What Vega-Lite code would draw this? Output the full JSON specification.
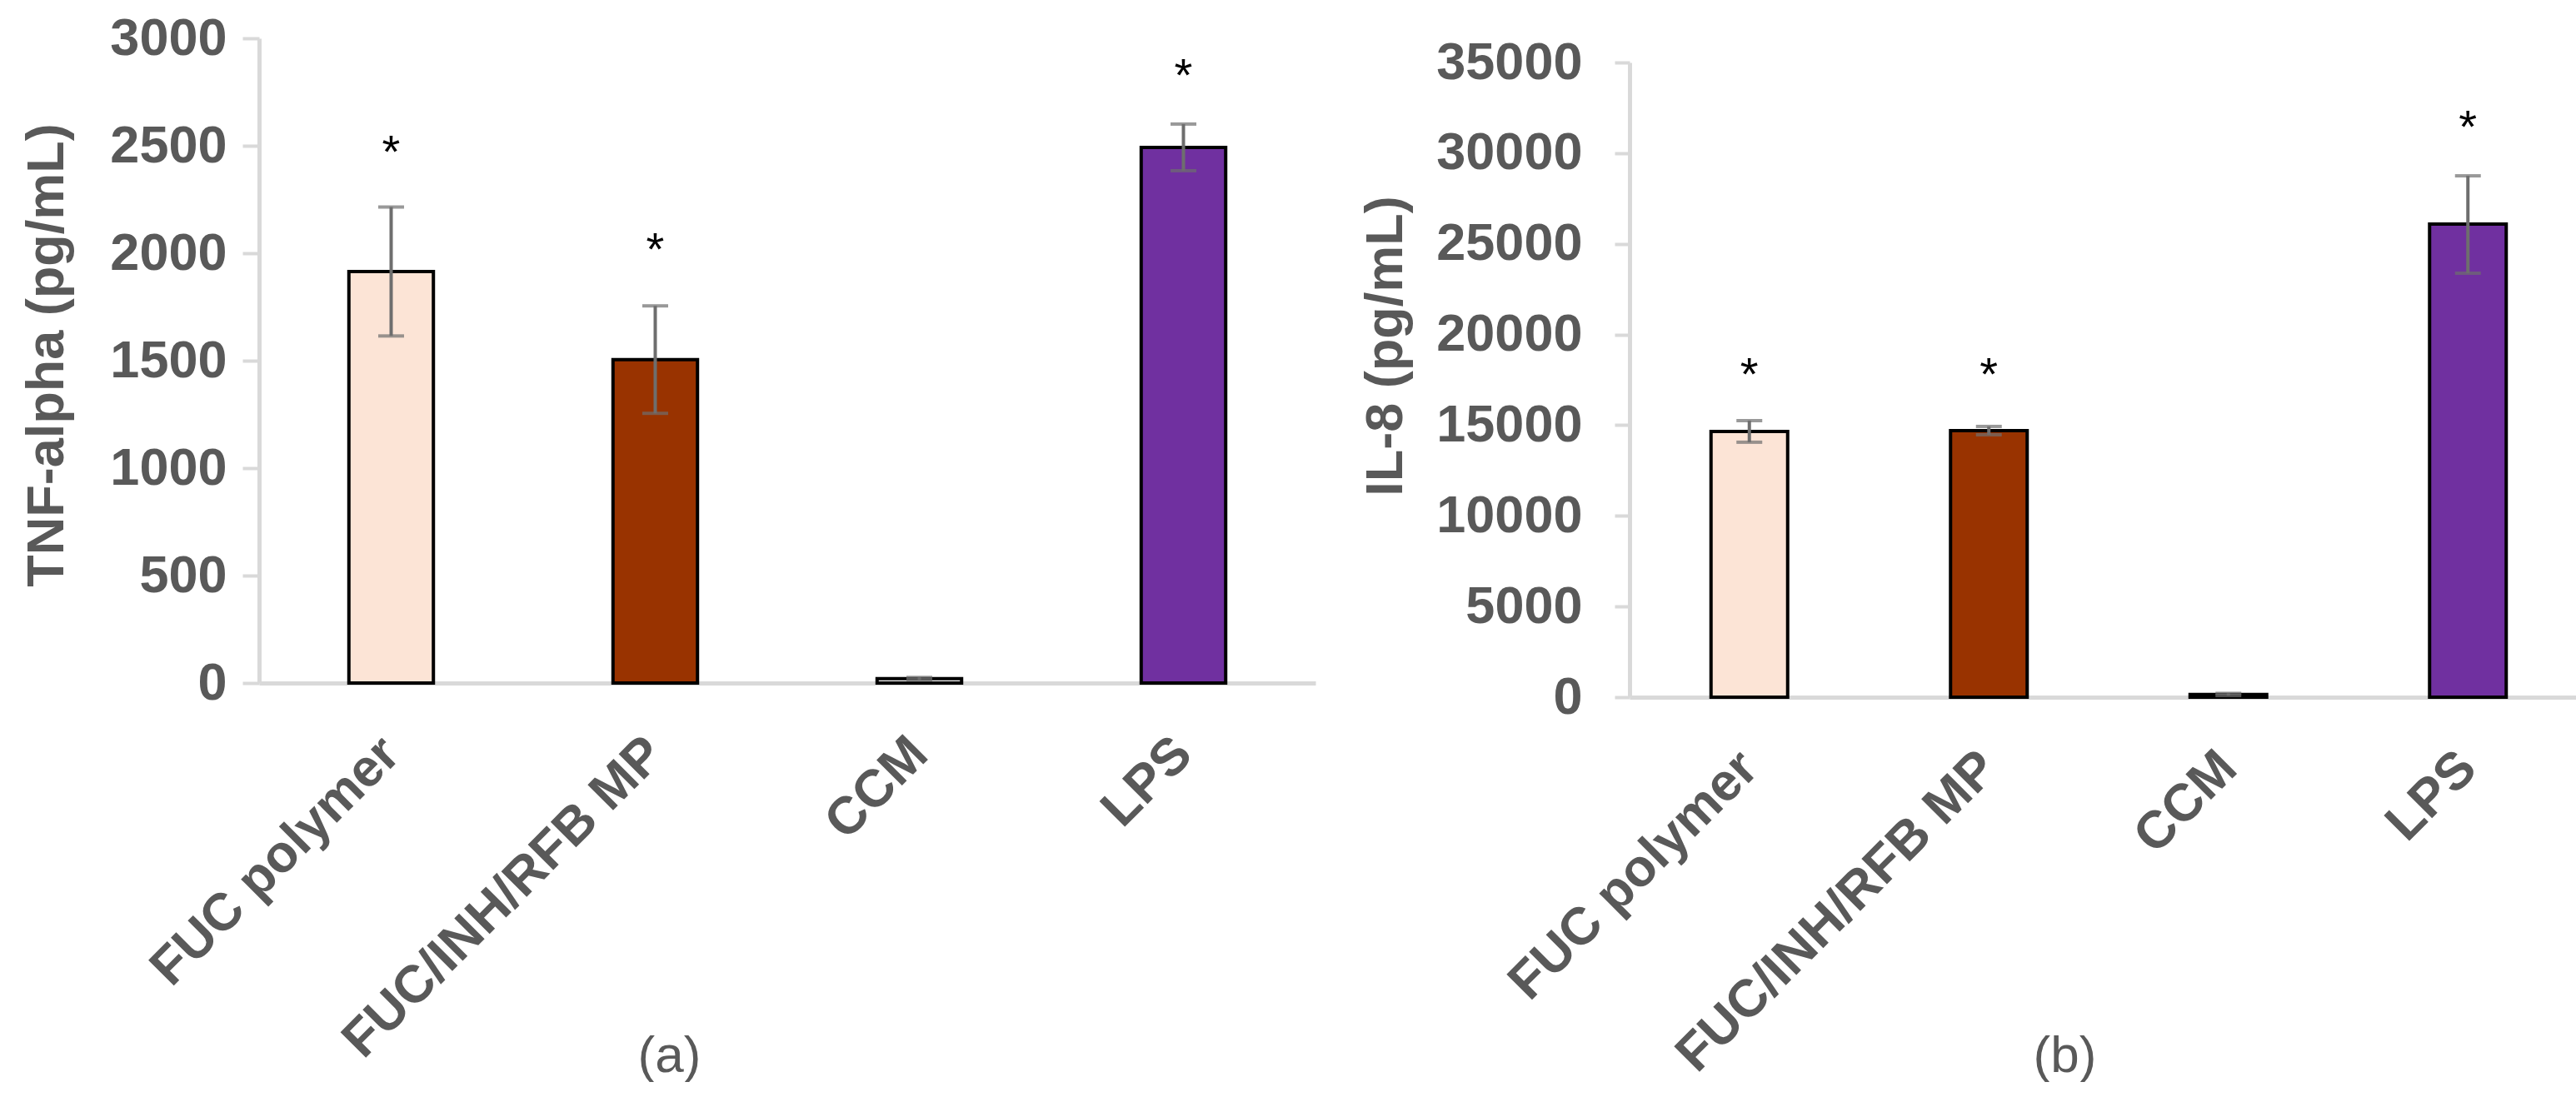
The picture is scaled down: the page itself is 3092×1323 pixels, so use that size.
{
  "$schema": "https://vega.github.io/schema/vega-lite/v6.json",
  "background": "white",
  "padding": {"left": 25, "top": 15, "right": 0, "bottom": 0},
  "spacing": 53,
  "config": {
    "view": {"stroke": null},
    "font": "Liberation Sans",
    "axis": {
      "labelFont": "Liberation Sans",
      "labelFontSize": 63,
      "labelFontWeight": "bold",
      "labelColor": "#595959",
      "labelLimit": 0,
      "titleFont": "Liberation Sans",
      "titleFontSize": 63,
      "titleFontWeight": "bold",
      "titleColor": "#595959",
      "domainColor": "#D9D9D9",
      "domainWidth": 5,
      "tickColor": "#D9D9D9",
      "tickWidth": 4,
      "grid": false,
      "zindex": 1
    }
  },
  "datasets": {
    "tnf": [
      {"group": "FUC polymer", "value": 1915, "low": 1615, "high": 2215, "star": 2523},
      {"group": "FUC/INH/RFB MP", "value": 1505, "low": 1255, "high": 1755, "star": 2070},
      {"group": "CCM", "value": 20, "low": 14, "high": 26, "star": null},
      {"group": "LPS", "value": 2492, "low": 2384, "high": 2601, "star": 2880}
    ],
    "il8": [
      {"group": "FUC polymer", "value": 14650, "low": 14060, "high": 15250, "star": 18420},
      {"group": "FUC/INH/RFB MP", "value": 14700, "low": 14470, "high": 14930, "star": 18420},
      {"group": "CCM", "value": 150, "low": 90, "high": 210, "star": null},
      {"group": "LPS", "value": 26090, "low": 23380, "high": 28750, "star": 32060}
    ]
  },
  "hconcat": [
    {
      "width": 1268,
      "height": 774,
      "data": {"name": "tnf"},
      "encoding": {
        "x": {
          "field": "group", "type": "nominal", "sort": null,
          "scale": {"paddingInner": 0.68, "paddingOuter": 0.34},
          "axis": {
            "labelAngle": -45, "labelBaseline": "middle", "labelAlign": "right", "ticks": false, "labelPadding": 75,
            "title": "(a)", "titleFontWeight": "normal", "titleFontSize": 62,
            "titleX": 492, "titleY": 447, "titleAlign": "center", "titleBaseline": "middle", "titleAnchor": null
          }
        }
      },
      "layer": [
        {
          "mark": {"type": "bar", "stroke": "black", "strokeWidth": 4},
          "encoding": {
            "y": {
              "field": "value", "type": "quantitative",
              "scale": {"domain": [0, 3000], "nice": false},
              "axis": {
                "values": [0, 500, 1000, 1500, 2000, 2500, 3000], "format": "d",
                "tickSize": 20, "labelPadding": 19,
                "title": "TNF-alpha (pg/mL)", "titleX": -255, "titleY": 380,
                "titleBaseline": "middle", "titleAlign": "center", "titleAngle": 270
              }
            },
            "color": {
              "field": "group", "type": "nominal", "legend": null,
              "scale": {"domain": ["FUC polymer", "FUC/INH/RFB MP", "CCM", "LPS"], "range": ["#FCE4D6", "#993300", "#FFFFFF", "#7030A0"]}
            }
          }
        },
        {
          "mark": {"type": "rule", "color": "#6E6E6E", "strokeWidth": 4},
          "encoding": {"y": {"field": "low", "type": "quantitative"}, "y2": {"field": "high"}}
        },
        {
          "mark": {"type": "tick", "color": "#6E6E6E", "thickness": 4, "size": 31, "orient": "horizontal"},
          "encoding": {"y": {"field": "low", "type": "quantitative"}}
        },
        {
          "mark": {"type": "tick", "color": "#6E6E6E", "thickness": 4, "size": 31, "orient": "horizontal"},
          "encoding": {"y": {"field": "high", "type": "quantitative"}}
        },
        {
          "transform": [{"filter": "datum.star != null"}],
          "mark": {"type": "text", "fontSize": 56, "color": "black", "baseline": "alphabetic", "dy": 32},
          "encoding": {"y": {"field": "star", "type": "quantitative"}, "text": {"value": "*"}}
        }
      ]
    },
    {
      "spacing": -3,
      "vconcat": [
        {
          "width": 1150,
          "height": 1,
          "data": {"values": []},
          "mark": "point"
        },
        {
          "width": 1150,
          "height": 762,
          "data": {"name": "il8"},
          "encoding": {
            "x": {
              "field": "group", "type": "nominal", "sort": null,
              "scale": {"paddingInner": 0.68, "paddingOuter": 0.34},
              "axis": {
                "labelAngle": -45, "labelBaseline": "middle", "labelAlign": "right", "ticks": false, "labelPadding": 75,
                "title": "(b)", "titleFontWeight": "normal", "titleFontSize": 62,
                "titleX": 522, "titleY": 430, "titleAlign": "center", "titleBaseline": "middle", "titleAnchor": null
              }
            }
          },
          "layer": [
            {
              "mark": {"type": "bar", "stroke": "black", "strokeWidth": 4},
              "encoding": {
                "y": {
                  "field": "value", "type": "quantitative",
                  "scale": {"domain": [0, 35000], "nice": false},
                  "axis": {
                    "values": [0, 5000, 10000, 15000, 20000, 25000, 30000, 35000], "format": "d",
                    "tickSize": 18, "labelPadding": 39,
                    "title": "IL-8 (pg/mL)", "titleX": -293, "titleY": 340,
                    "titleBaseline": "middle", "titleAlign": "center", "titleAngle": 270
                  }
                },
                "color": {
                  "field": "group", "type": "nominal", "legend": null,
                  "scale": {"domain": ["FUC polymer", "FUC/INH/RFB MP", "CCM", "LPS"], "range": ["#FCE4D6", "#993300", "#FFFFFF", "#7030A0"]}
                }
              }
            },
            {
              "mark": {"type": "rule", "color": "#6E6E6E", "strokeWidth": 4},
              "encoding": {"y": {"field": "low", "type": "quantitative"}, "y2": {"field": "high"}}
            },
            {
              "mark": {"type": "tick", "color": "#6E6E6E", "thickness": 4, "size": 31, "orient": "horizontal"},
              "encoding": {"y": {"field": "low", "type": "quantitative"}}
            },
            {
              "mark": {"type": "tick", "color": "#6E6E6E", "thickness": 4, "size": 31, "orient": "horizontal"},
              "encoding": {"y": {"field": "high", "type": "quantitative"}}
            },
            {
              "transform": [{"filter": "datum.star != null"}],
              "mark": {"type": "text", "fontSize": 56, "color": "black", "baseline": "alphabetic", "dy": 32},
              "encoding": {"y": {"field": "star", "type": "quantitative"}, "text": {"value": "*"}}
            }
          ]
        }
      ]
    }
  ]
}
